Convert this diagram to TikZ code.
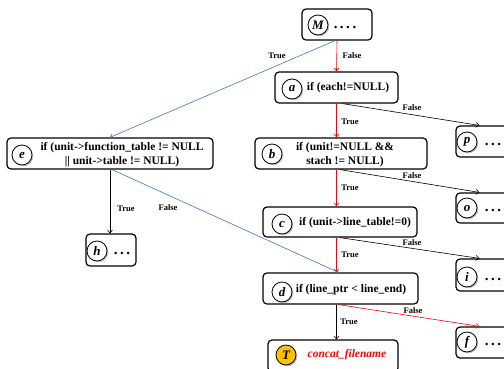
\documentclass[tikz,border=0pt]{standalone}
\usepackage{fontspec}
\setmainfont{Liberation Serif}
\usetikzlibrary{arrows.meta,shadows}
\definecolor{lnblue}{RGB}{68,114,196}
\definecolor{tgold}{RGB}{255,192,0}
\begin{document}
\begin{tikzpicture}[x=1pt,y=-1pt,
  box/.style={draw,line width=1.2pt,rounded corners=4pt,inner sep=0pt},
  lett/.style={circle,draw,line width=0.8pt,fill=white,minimum size=20pt,inner sep=0pt,
    font=\fontsize{13}{13}\selectfont\bfseries\itshape,
    drop shadow={shadow xshift=1.3pt,shadow yshift=-1.3pt,opacity=0.45}},
  txt/.style={font=\fontsize{11.5}{14}\selectfont\bfseries,align=center,inner sep=0pt},
  dots/.style={font=\fontsize{15}{15}\selectfont\bfseries,inner sep=0pt},
  lbl/.style={font=\fontsize{8.5}{9}\selectfont\bfseries,inner sep=0pt},
  arr/.style={-{Straight Barb[length=3pt,width=5pt]},line width=0.6pt},
]
\useasboundingbox (0,0) rectangle (504,368);

% boxes
\node[box,minimum width=70pt,minimum height=31pt] (M) at (337,24.5) {};
\node[box,minimum width=123pt,minimum height=31pt] (a) at (336.5,87.5) {};
\node[box,minimum width=172pt,minimum height=31pt] (b) at (341,153.5) {};
\node[box,minimum width=154pt,minimum height=30pt] (c) at (340,222) {};
\node[box,minimum width=155pt,minimum height=31pt] (d) at (340.5,288.5) {};
\node[box,minimum width=130pt,minimum height=32pt] (T) at (333,356) {};
\node[box,minimum width=60pt,minimum height=31pt] (p) at (486,141.5) {};
\node[box,minimum width=60pt,minimum height=30pt] (o) at (486,208) {};
\node[box,minimum width=60pt,minimum height=32pt] (i) at (486,275) {};
\node[box,minimum width=60pt,minimum height=31pt] (f) at (486,342.5) {};
\node[box,minimum width=206pt,minimum height=31pt] (e) at (110,153.5) {};
\node[box,minimum width=50pt,minimum height=32pt] (h) at (111,250) {};

% letter circles
\node[lett] (Mc) at (318,25) {M};
\node[lett] (ac) at (292,89) {a};
\node[lett] (bc) at (272,154) {b};
\node[lett] (cc) at (282,224) {c};
\node[lett] (dc) at (282,292) {d};
\node[lett,fill=tgold] (Tc) at (286,355) {T};
\node[lett] (pc) at (467,142) {p};
\node[lett] (oc) at (467,208) {o};
\node[lett] (ic) at (467,277) {i};
\node[lett] (fc) at (467,342) {f};
\node[lett] (ec) at (22,155) {e};
\node[lett] (hc) at (97,251) {h};

% texts
\node[dots,anchor=base] (Mt) at (345,28) {.\,.\,.\,.};
\node[txt] (at) at (348,88) {if (each!=NULL)};
\node[txt] (bt) at (345,155) {if (unit!=NULL \&\&\\stach != NULL)};
\node[txt] (ct) at (355,223) {if (unit->line\_table!=0)};
\node[txt] (dt) at (351,290) {if (line\_ptr < line\_end)};
\node[txt,text=red,font=\fontsize{11.5}{14}\selectfont\bfseries\itshape] (Tt) at (347,355) {concat\_filename};
\node[txt] (et) at (122,155) {if (unit->function\_table != NULL\\|| unit->table != NULL)};
\node[dots,anchor=base] (pt) at (493,145) {.\,.\,.};
\node[dots,anchor=base] (ot) at (493,211) {.\,.\,.};
\node[dots,anchor=base] (it) at (493,280) {.\,.\,.};
\node[dots,anchor=base] (ft) at (493,345) {.\,.\,.};
\node[dots,anchor=base] (ht) at (122,254) {.\,.\,.};

% connectors
\draw[arr,red] (M.south) -- (a.north);
\draw[arr,lnblue] ([xshift=-2pt]M.south) -- (e.north);
\draw[arr,red] (a.south) -- (a.south |- b.north);
\draw[arr] ([xshift=6pt]a.south) -- ([xshift=24pt]p.north west);
\draw[arr,red] (a.south |- b.south) -- (a.south |- c.north);
\draw[arr] ([xshift=-1pt]b.south) -- ([xshift=24pt]o.north west);
\draw[arr,red] (a.south |- c.south) -- (a.south |- d.north);
\draw[arr] (c.south) -- ([xshift=24pt]i.north west);
\draw[arr] (a.south |- d.south) -- (a.south |- T.north);
\draw[arr,red] ([xshift=-2pt]d.south) -- ([xshift=24pt]f.north west);
\draw[arr] (e.south) -- (e.south |- h.north);
\draw[arr,lnblue] ([xshift=2pt]e.south) -- ([xshift=-2pt]d.north);

% labels
\node[lbl] (l1) at (277,56) {True};
\node[lbl] (l2) at (352,56) {False};
\node[lbl] (l3) at (412,108) {False};
\node[lbl] (l4) at (350,122) {True};
\node[lbl] (l5) at (412,176) {False};
\node[lbl] (l6) at (350,188) {True};
\node[lbl] (l7) at (412,243) {False};
\node[lbl] (l8) at (350,255) {True};
\node[lbl] (l9) at (413,311) {False};
\node[lbl] (l10) at (349,322) {True};
\node[lbl] (l11) at (126,209) {True};
\node[lbl] (l12) at (168,208) {False};
\end{tikzpicture}
\end{document}
